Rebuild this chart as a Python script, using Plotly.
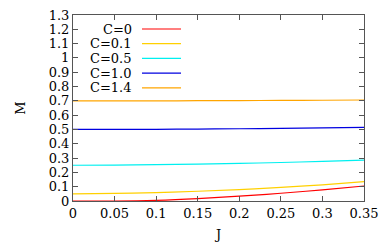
import plotly.graph_objects as go

J = [0.0, 0.05, 0.10, 0.15, 0.20, 0.25, 0.30, 0.35]
names = ["C=0", "C=0.1", "C=0.5", "C=1.0", "C=1.4"]
M_C0 = [0.0, 0.0, 0.005, 0.017, 0.034, 0.054, 0.078, 0.105]
M_C01 = [0.050, 0.053, 0.059, 0.068, 0.080, 0.095, 0.113, 0.135]
M_C05 = [0.250, 0.251, 0.254, 0.258, 0.263, 0.269, 0.277, 0.285]
M_C10 = [0.500, 0.500, 0.501, 0.503, 0.505, 0.508, 0.511, 0.515]
M_C14 = [0.700, 0.700, 0.700, 0.701, 0.702, 0.703, 0.704, 0.706]
series = [M_C0, M_C01, M_C05, M_C10, M_C14]
colors = ["#ff0000", "#ffd000", "#00f0f0", "#0000e0", "#ffa500"]

font = "DejaVu Serif"
fs = 13
fig = go.Figure()
for n, ys, c in zip(names, series, colors):
    fig.add_trace(go.Scatter(x=J, y=ys, mode="lines", name=n,
                             line=dict(color=c, width=1.2, shape="spline"),
                             showlegend=False))

# gnuplot-style key: text right-aligned, sample line to the right
W, H = 392, 249
ml, mr, mt, mb = 73, 28, 15, 48
pw, ph = W - ml - mr, H - mt - mb
key_y0 = 29
key_dy = 14.7
for i, (n, c) in enumerate(zip(names, colors)):
    ypx = key_y0 + i * key_dy
    yp = 1 - (ypx - mt) / ph
    fig.add_annotation(x=(134 - ml) / pw, y=yp, xref="paper", yref="paper",
                       text=n, showarrow=False, xanchor="right", yanchor="middle",
                       font=dict(family=font, size=fs, color="black"))
    fig.add_shape(type="line", xref="paper", yref="paper",
                  x0=(142 - ml) / pw, x1=(181 - ml) / pw, y0=yp, y1=yp,
                  line=dict(color=c, width=1.2))

axis_common = dict(showgrid=False, zeroline=False, showline=True, mirror="ticks",
                   linecolor="#555555", linewidth=1, ticks="inside", ticklen=5,
                   tickcolor="#555555", automargin=False,
                   tickfont=dict(family=font, size=fs, color="black"))
fig.update_xaxes(range=[0, 0.35], dtick=0.05, tick0=0,
                 title=dict(text="J", font=dict(family=font, size=fs, color="black"), standoff=10),
                 **axis_common)
fig.update_yaxes(range=[0, 1.3], dtick=0.1, tick0=0,
                 title=dict(text="M", font=dict(family=font, size=fs, color="black"), standoff=20),
                 **axis_common)
fig.update_layout(width=W, height=H, margin=dict(l=ml, r=mr, t=mt, b=mb),
                  plot_bgcolor="white", paper_bgcolor="white",
                  font=dict(family=font, size=fs, color="black"))
fig.write_html("out.html", config={"displayModeBar": False},
               post_script="document.body.style.margin='0';document.body.style.padding='0';")
